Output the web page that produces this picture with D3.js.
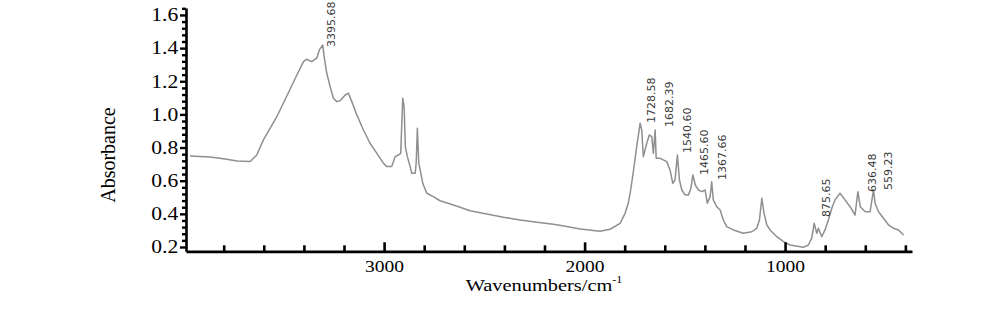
<!DOCTYPE html>
<html>
<head>
<meta charset="utf-8">
<script src="https://cdn.jsdelivr.net/npm/d3@7"></script>
<style>
  body { margin: 0; background: #fff; }
  svg { display: block; }
</style>
</head>
<body>
<div id="chart"></div>
<script>
// spectrum (wavenumber in cm-1, absorbance)
const wavenumbers = [3968, 3868, 3793, 3733, 3668, 3635, 3602, 3535, 3469, 3435, 3402, 3386, 3361, 3336, 3323, 3306,
  3299, 3286, 3269, 3253, 3236, 3219, 3194, 3178, 3161, 3136, 3103, 3070, 3036, 3003, 2987, 2962, 2945, 2929, 2917,
  2907, 2900, 2894, 2884, 2870, 2862, 2845, 2840, 2834, 2827, 2820, 2807, 2787, 2754, 2721, 2654, 2571, 2488, 2405,
  2322, 2238, 2156, 2089, 2022, 1923, 1873, 1823, 1798, 1782, 1770, 1757, 1740, 1723, 1715, 1707, 1690, 1677, 1665,
  1657, 1648, 1643, 1623, 1590, 1574, 1560, 1549, 1537, 1527, 1515, 1499, 1482, 1470, 1460, 1448, 1432, 1415, 1399,
  1388, 1374, 1366, 1358, 1341, 1324, 1308, 1291, 1258, 1208, 1166, 1141, 1128, 1116, 1105, 1091, 1075, 1041, 1008,
  975, 909, 884, 867, 855, 842, 834, 817, 801, 784, 767, 751, 726, 701, 676, 651, 637, 625, 600, 576, 559, 551, 534,
  509, 484, 459, 434, 409];
const absorbance = [0.749, 0.743, 0.731, 0.719, 0.716, 0.755, 0.846, 0.986, 1.152, 1.238, 1.318, 1.333, 1.318, 1.339,
  1.389, 1.419, 1.348, 1.248, 1.167, 1.097, 1.077, 1.083, 1.117, 1.128, 1.077, 0.997, 0.906, 0.826, 0.765, 0.705,
  0.685, 0.685, 0.745, 0.755, 0.765, 1.097, 1.047, 0.805, 0.745, 0.685, 0.645, 0.645, 0.705, 0.916, 0.705, 0.665,
  0.584, 0.524, 0.504, 0.479, 0.453, 0.419, 0.399, 0.379, 0.363, 0.349, 0.337, 0.323, 0.309, 0.295, 0.307, 0.343,
  0.403, 0.464, 0.544, 0.654, 0.805, 0.947, 0.906, 0.745, 0.826, 0.876, 0.866, 0.765, 0.906, 0.735, 0.735, 0.715,
  0.665, 0.584, 0.604, 0.755, 0.604, 0.544, 0.514, 0.514, 0.554, 0.635, 0.574, 0.544, 0.534, 0.544, 0.464, 0.504,
  0.594, 0.484, 0.443, 0.423, 0.363, 0.323, 0.303, 0.283, 0.292, 0.313, 0.363, 0.494, 0.403, 0.333, 0.303, 0.262,
  0.232, 0.212, 0.198, 0.212, 0.253, 0.343, 0.283, 0.313, 0.262, 0.303, 0.363, 0.434, 0.484, 0.524, 0.484, 0.443,
  0.393, 0.534, 0.443, 0.413, 0.413, 0.544, 0.464, 0.413, 0.373, 0.333, 0.313, 0.303, 0.272];

// peak annotations: text, and where the bottom of each label sits
const peakLabels = ["3395.68", "1728.58", "1682.39", "1540.60", "1465.60", "1367.66", "875.65", "636.48", "559.23"];
const peakLabelWn = [3262, 1668, 1579, 1489, 1404, 1314, 796, 564, 484];
const peakLabelAbs = [1.407, 0.948, 0.924, 0.767, 0.635, 0.604, 0.381, 0.532, 0.544];

const xMajorTicks = [3000, 2000, 1000];
const yMajorTicks = [0.2, 0.4, 0.6, 0.8, 1.0, 1.2, 1.4, 1.6];

const width = 983, height = 321;
const serif = "'Liberation Serif', 'Times New Roman', serif";

const svg = d3.select("#chart").append("svg")
  .attr("width", width)
  .attr("height", height);

const x = d3.scaleLinear().domain([3988, 367]).range([186, 912]);
const y = d3.scaleLinear().domain([0.174, 1.642]).range([251.3, 8]);

const xMinor = d3.range(3800, 367, -200).filter(v => v % 1000 !== 0);
const yMinor = d3.range(0.2, 1.641, 0.04).filter(v => Math.abs(v * 5 - Math.round(v * 5)) > 1e-6);

// spectrum
const line = d3.line()
  .x(d => x(d[0]))
  .y(d => y(d[1]));

svg.append("path")
  .datum(wavenumbers.map((w, i) => [w, absorbance[i]]))
  .attr("d", line)
  .attr("fill", "none")
  .attr("stroke", "#8f8f8f")
  .attr("stroke-width", 1.5)
  .attr("stroke-linejoin", "round");

// x axis: ticks pointing up into the plot
const xAxisG = svg.append("g").attr("transform", `translate(0,${y.range()[0]})`);

xAxisG.append("g")
  .call(d3.axisBottom(x).tickValues(xMinor).tickSize(-6).tickSizeOuter(0).tickFormat(""))
  .call(g => g.select(".domain").remove());

xAxisG.append("g")
  .call(d3.axisBottom(x).tickValues(xMajorTicks).tickSize(-9).tickSizeOuter(0).tickPadding(9).tickFormat(d3.format("d")))
  .call(g => g.select(".domain").attr("stroke-width", 2.8))
  .call(g => g.selectAll("text")
    .attr("font-family", serif)
    .attr("font-size", 16)
    .attr("fill", "#000")
    .attr("transform", "scale(1.22,1)"));

xAxisG.selectAll(".tick line").attr("stroke-width", 2.6);

// y axis: ticks pointing left
const yAxisG = svg.append("g").attr("transform", `translate(${x.range()[0]},0)`);

yAxisG.append("g")
  .call(d3.axisLeft(y).tickValues(yMinor).tickSize(4).tickSizeOuter(0).tickFormat(""))
  .call(g => g.select(".domain").remove());

yAxisG.append("g")
  .call(d3.axisLeft(y).tickValues(yMajorTicks).tickSize(6).tickSizeOuter(0).tickFormat(d3.format(".1f")))
  .call(g => g.select(".domain").attr("stroke-width", 2.6))
  .call(g => g.selectAll("text")
    .attr("x", -6.5)
    .attr("font-family", serif)
    .attr("font-size", 18)
    .attr("fill", "#000")
    .attr("transform", "scale(1.2,1)"));

yAxisG.selectAll(".tick line").attr("stroke-width", 2.4);

// peak labels, rotated to read bottom to top
svg.append("g")
  .selectAll("text")
  .data(peakLabels)
  .join("text")
  .attr("transform", (d, i) => `translate(${x(peakLabelWn[i])},${y(peakLabelAbs[i])}) rotate(-90)`)
  .attr("dy", "0.35em")
  .attr("font-family", "'DejaVu Sans', sans-serif")
  .attr("font-size", 11)
  .attr("fill", "#3a3a3a")
  .text(d => d);

// axis titles
svg.append("text")
  .attr("transform", "translate(108,155) rotate(-90)")
  .attr("dy", "0.35em")
  .attr("text-anchor", "middle")
  .attr("font-family", serif)
  .attr("font-size", 20)
  .attr("fill", "#000")
  .text("Absorbance");

const xTitle = svg.append("g")
  .attr("transform", "translate(544,291) scale(1.2,1)")
  .append("text")
  .attr("text-anchor", "middle")
  .attr("font-family", serif)
  .attr("font-size", 17)
  .attr("fill", "#000");

xTitle.append("tspan").text("Wavenumbers/cm");
xTitle.append("tspan")
  .attr("font-size", 10)
  .attr("dy", -8)
  .text("-1");
</script>
</body>
</html>
